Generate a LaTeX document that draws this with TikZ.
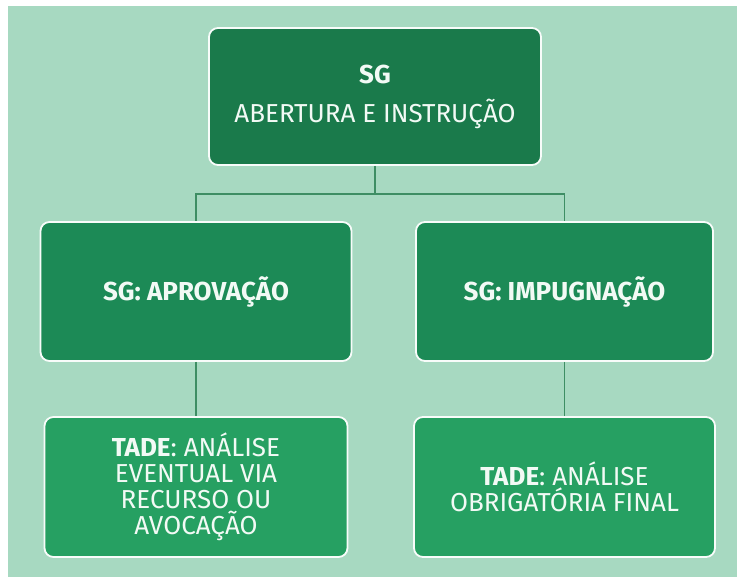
\documentclass[tikz,border=0pt]{standalone}
\usepackage{fontspec}
\setmainfont{Fira Sans}
\usepackage{tikz}
\usetikzlibrary{positioning}

\definecolor{bgGreen}{HTML}{A7D9C1}
\definecolor{topGreen}{HTML}{1A7A4B}
\definecolor{midGreen}{HTML}{1C8A56}
\definecolor{botGreen}{HTML}{26A062}
\definecolor{lineGreen}{HTML}{3E8E64}
\definecolor{boxText}{HTML}{F2FAF5}

\begin{document}
\begin{tikzpicture}[x=1pt, y=1pt,
  every node/.style={draw=white!92!bgGreen, line width=1.8pt, rounded corners=9pt,
    text=boxText, align=center, font=\fontsize{26}{26}\selectfont},
  link/.style={draw=lineGreen, line width=1.4pt}]
  % Canvas
  \useasboundingbox (0,0) rectangle (737,-577);
  \fill[white] (0,0) rectangle (737,-577);
  \fill[bgGreen] (8,-6) rectangle (737,-577);

  % Top box
  \node[fill=topGreen, minimum width=332, minimum height=137,
    font=\fontsize{26}{39}\selectfont] (abertura) at (375,-96.5)
    {\textbf{SG}\\ABERTURA E INSTRUÇÃO};

  % Middle boxes
  \node[fill=midGreen, minimum width=311, minimum height=139] (aprovacao) at (196,-291.5)
    {\textbf{SG: APROVAÇÃO}};
  \node[fill=midGreen, minimum width=297, minimum height=139] (impugnacao) at (564.5,-291.5)
    {\textbf{SG: IMPUGNAÇÃO}};

  % Bottom boxes
  \node[fill=botGreen, minimum width=303, minimum height=140] (eventual) at (196,-487)
    {\textbf{TADE}: ANÁLISE\\EVENTUAL VIA\\RECURSO OU\\AVOCAÇÃO};
  \node[fill=botGreen, minimum width=301, minimum height=140] (obrigatoria) at (564.5,-487)
    {\textbf{TADE}: ANÁLISE\\OBRIGATÓRIA FINAL};

  % Links
  \coordinate (bus) at (375,-194);
  \draw[link] (abertura) -- (bus);
  \draw[link] (bus) -| (aprovacao);
  \draw[link] (bus) -| (impugnacao);
  \draw[link] (aprovacao) -- (eventual);
  \draw[link] (impugnacao) -- (obrigatoria);
\end{tikzpicture}
\end{document}
